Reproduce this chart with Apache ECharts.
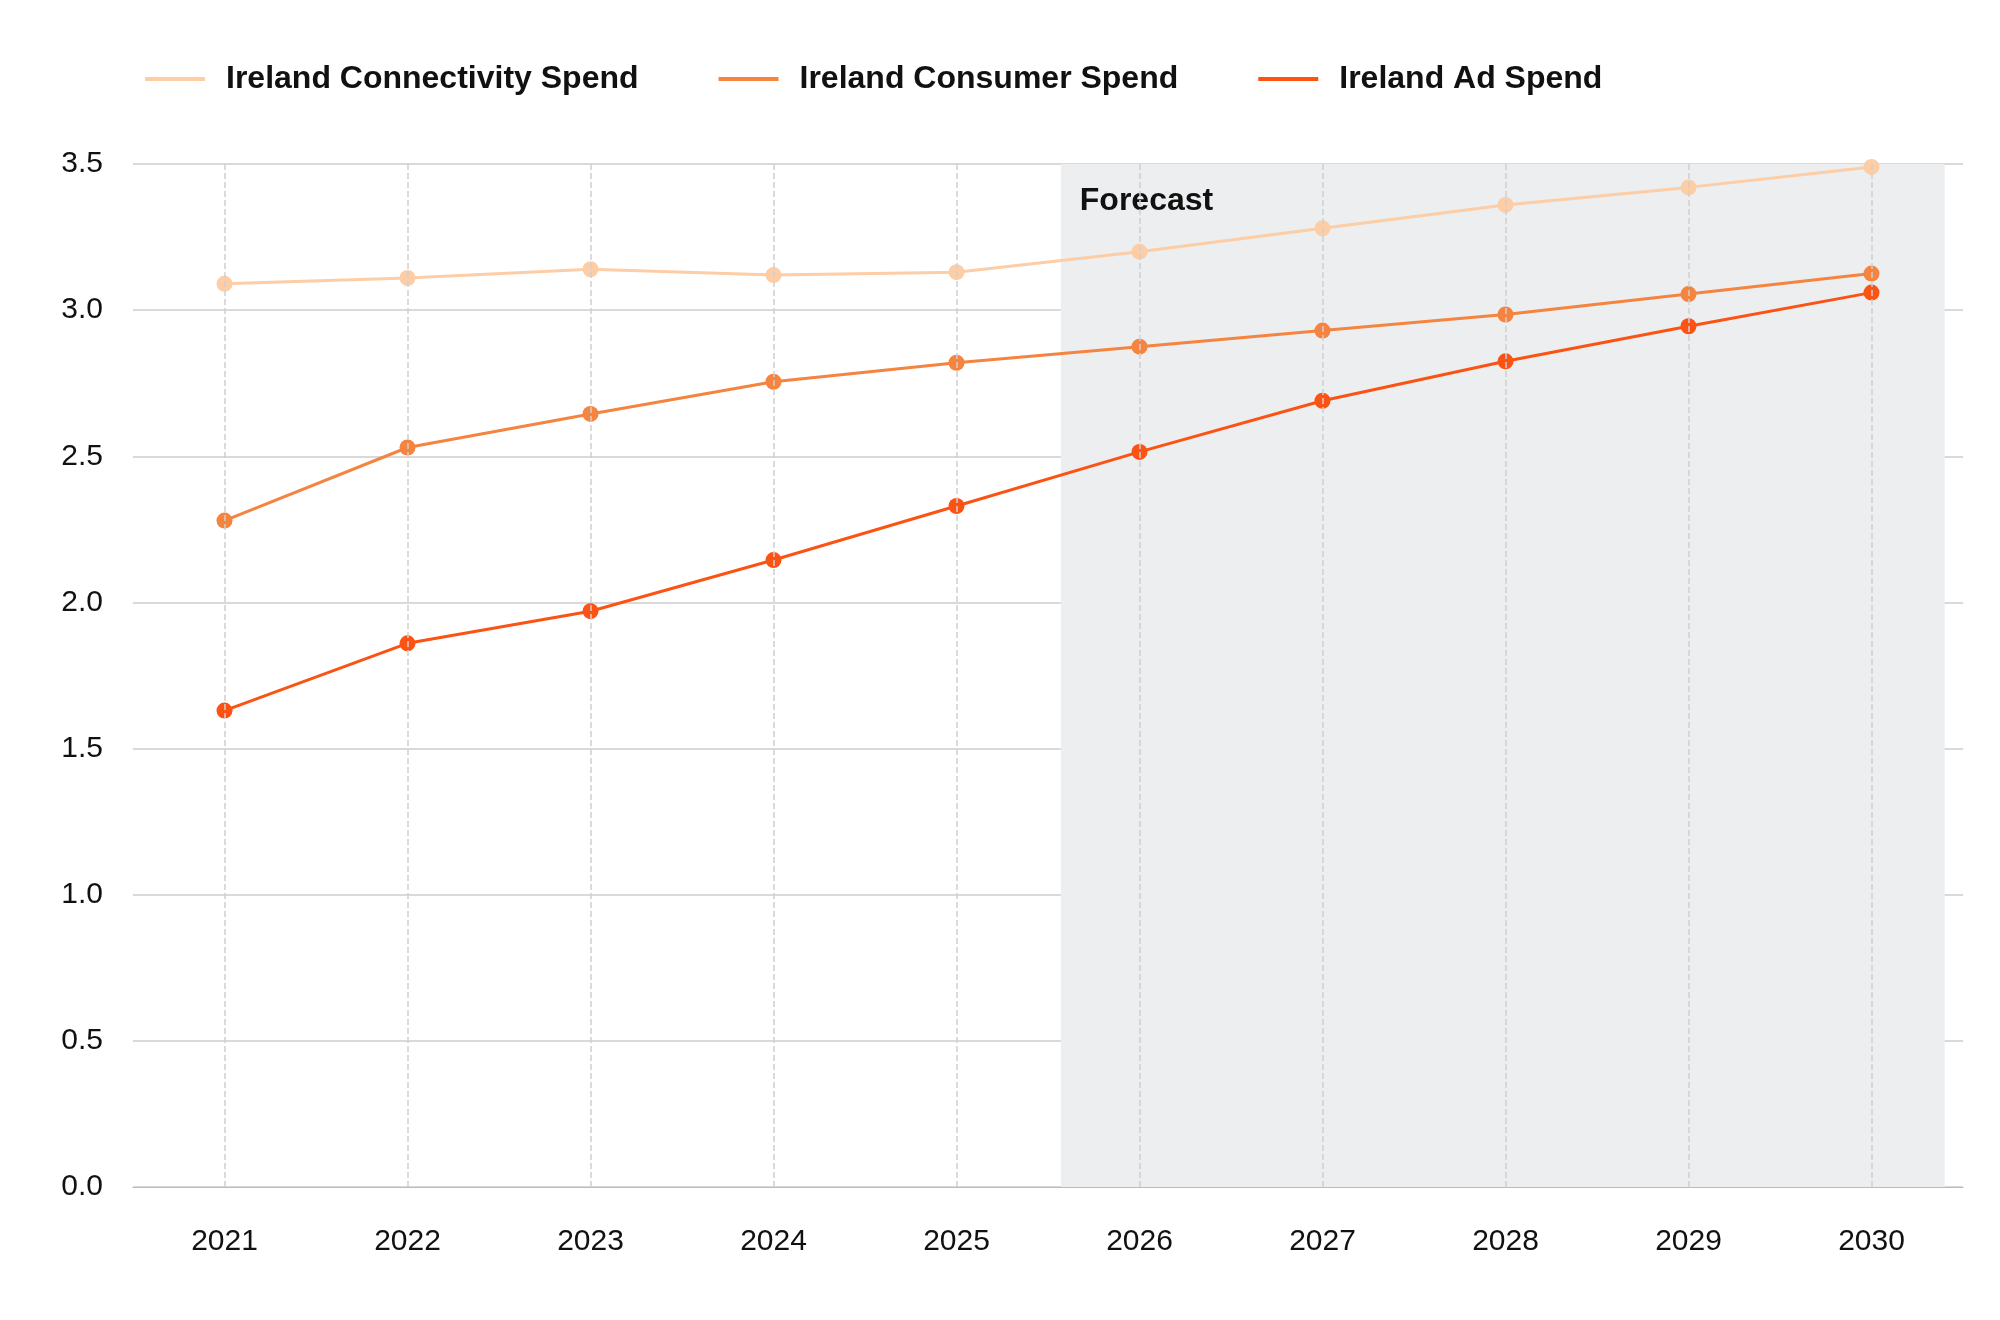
<!DOCTYPE html>
<html><head><meta charset="utf-8">
<script src="https://cdn.jsdelivr.net/npm/echarts@6/dist/echarts.min.js"></script>
<style>html,body{margin:0;background:#fff}#c{width:2000px;height:1320px}</style>
</head><body><div id="c"></div>
<script>
const years = ['2021','2022','2023','2024','2025','2026','2027','2028','2029','2030'];
const connectivity = [3.09, 3.11, 3.14, 3.12, 3.13, 3.20, 3.28, 3.36, 3.42, 3.49];
const consumer = [2.28, 2.53, 2.645, 2.755, 2.82, 2.875, 2.93, 2.985, 3.055, 3.125];
const ad = [1.63, 1.86, 1.97, 2.145, 2.33, 2.515, 2.69, 2.825, 2.945, 3.06];
const yTicks = [0, 0.5, 1, 1.5, 2, 2.5, 3, 3.5];
const forecastStart = 4.57, forecastEnd = 9.4;

const font = 'Liberation Sans, Arial, sans-serif';
const chart = echarts.init(document.getElementById('c'));
function line(name, data, color){
  return {name, type:'line', data, xAxisIndex:0, symbol:'circle', symbolSize:16,
    lineStyle:{width:3,color}, itemStyle:{color}, z:3};
}
chart.setOption({
  animation:false,
  textStyle:{fontFamily:font},
  legend:{top:58, left:140, itemGap:80, itemWidth:60, itemHeight:4,
    icon:'rect',
    textStyle:{fontSize:32, fontWeight:'bold', color:'#111', padding:[0,0,0,16]},
    data:['Ireland Connectivity Spend','Ireland Consumer Spend','Ireland Ad Spend']},
  grid:{left:133, right:37, top:164, bottom:133},
  xAxis:[{type:'category', data:years, boundaryGap:true,
    axisLine:{lineStyle:{color:'#bbb'}}, axisTick:{show:false},
    axisLabel:{fontSize:30, color:'#111', margin:40},
    splitLine:{show:false}},
    {type:'value', min:-0.5, max:9.5, show:false}],
  yAxis:{type:'value', min:0, max:3.5, interval:0.5,
    axisLine:{show:false}, axisTick:{show:false},
    axisLabel:{fontSize:30, color:'#111', margin:30, formatter:v=>v.toFixed(1)},
    splitLine:{lineStyle:{color:'#ccc', width:1.5}}},
  series:[
    {type:'line', xAxisIndex:1, data:[], silent:true,
      markArea:{silent:true, itemStyle:{color:'#eceeef'},
        label:{show:true, position:'insideTopLeft', offset:[14,16], formatter:'Forecast', fontSize:32, fontWeight:'bold', color:'#111'},
        data:[[{xAxis:forecastStart, yAxis:0},{xAxis:forecastEnd, yAxis:3.5}]]},
      markLine:{silent:true, symbol:'none', label:{show:false},
        lineStyle:{type:'dashed', color:'#d0d0d0', width:1.5},
        data: years.map((y,i)=>({xAxis:i}))}, z:2},
    line('Ireland Connectivity Spend', connectivity, '#fdcda6'),
    line('Ireland Consumer Spend', consumer, '#f4843f'),
    line('Ireland Ad Spend', ad, '#fb5314')
  ]
});
</script></body></html>
